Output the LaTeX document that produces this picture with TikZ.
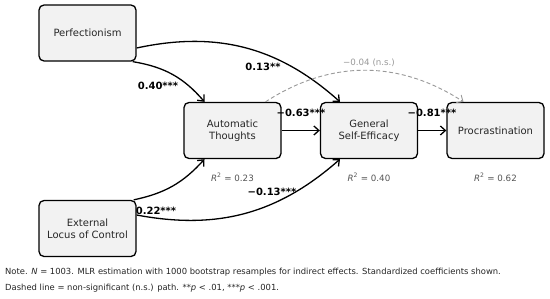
\documentclass[tikz,border=0pt]{standalone}
\usepackage{fontspec}
\setmainfont{DejaVu Sans}
\usetikzlibrary{arrows.meta}
\definecolor{boxgray}{HTML}{F2F2F2}
\definecolor{nsgray}{HTML}{999999}
\definecolor{rgray}{HTML}{555555}
\begin{document}
\begin{tikzpicture}[x=1pt,y=1pt,
  box/.style={draw=black, line width=1.3pt, fill=boxgray, rounded corners=5pt,
    minimum width=97pt, minimum height=56pt, align=center, inner sep=0pt,
    font=\fontsize{10}{12}\selectfont, text=black!85},
  pathline/.style={-{Straight Barb[length=5pt,width=9pt,line width=1.3pt]}, line width=1.3pt},
  nsline/.style={-{Straight Barb[length=5pt,width=9pt,line width=0.9pt]}, line width=0.9pt, nsgray, dash pattern=on 4pt off 2.5pt},
  coef/.style={font=\bfseries\fontsize{10}{12}\selectfont, inner sep=0pt},
  nscoef/.style={font=\fontsize{8.7}{10}\selectfont, text=nsgray, inner sep=0pt},
  rsq/.style={font=\fontsize{8.7}{10}\selectfont, text=rgray, inner sep=0pt},
  note/.style={font=\fontsize{8.4}{10}\selectfont, anchor=west, inner sep=0pt, text=black!85}]
\useasboundingbox (0,0) rectangle (550,-298);
\fill[white] (0,0) rectangle (550,-298);

\node[box] (P) at (87.5,-33) {Perfectionism};
\node[box] (AT) at (232.5,-130.5) {Automatic\\Thoughts};
\node[box] (G) at (369,-130.5) {General\\Self-Efficacy};
\node[box] (PR) at (495.5,-130.5) {Procrastination};
\node[box] (E) at (87.5,-228.5) {External\\Locus of Control};

\draw[pathline] ([xshift=-4pt]P.south east) to[bend left=20] ([xshift=-28pt]AT.north);
\draw[pathline] ([yshift=-15pt]P.east) to[bend left=27] ([xshift=-29pt]G.north);
\draw[nsline] ([xshift=33pt]AT.north) to[bend left=33] ([xshift=-32pt]PR.north);
\draw[pathline] (AT.east) -- (G.west);
\draw[pathline] (G.east) -- (PR.west);
\draw[pathline] ([xshift=-3pt]E.north east) to[bend right=18] ([xshift=-28pt]AT.south);
\draw[pathline] ([yshift=13.5pt]E.east) to[bend right=26] ([xshift=-29pt]G.south);

\node[coef] (c1) at (158,-86) {0.40***};
\node[coef] (c2) at (263,-67) {0.13**};
\node[nscoef] (c3) at (369,-63) {−0.04 (n.s.)};
\node[coef] (c4) at (301,-113) {−0.63***};
\node[coef] (c5) at (432,-113) {−0.81***};
\node[coef] (c6) at (156,-211) {0.22***};
\node[coef] (c7) at (272,-192) {−0.13***};

\node[rsq] (r1) at (232.5,-177) {\textit{R}\textsuperscript{2} = 0.23};
\node[rsq] (r2) at (369,-177) {\textit{R}\textsuperscript{2} = 0.40};
\node[rsq] (r3) at (495.5,-177) {\textit{R}\textsuperscript{2} = 0.62};

\node[note] (n1) at (5,-272) {Note. \textit{N} = 1003. MLR estimation with 1000 bootstrap resamples for indirect effects. Standardized coefficients shown.};
\node[note] (n2) at (5,-288) {Dashed line = non-significant (n.s.) path. **\textit{p} < .01, ***\textit{p} < .001.};
\end{tikzpicture}
\end{document}
